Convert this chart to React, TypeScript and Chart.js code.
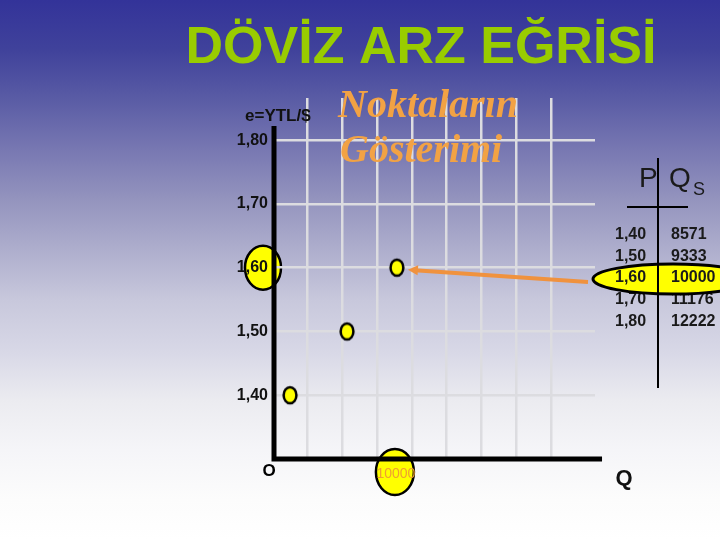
import React, { useEffect, useRef } from 'react';
import { Chart, registerables } from 'chart.js';

Chart.register(...registerables);

// ---- data ----
const priceLabels = ['1,40', '1,50', '1,60', '1,70', '1,80'];
const prices = [1.4, 1.5, 1.6, 1.7, 1.8];
const quantities = [8571, 9333, 10000, 11176, 12222];
const quantityLabels = ['8571', '9333', '10000', '11176', '12222'];
const shownPoints = 3;
const highlightIndex = 2;
const titleText = 'DÖVİZ ARZ EĞRİSİ';
const subtitleLines = ['Noktaların', 'Gösterimi'];
const yAxisTitle = 'e=YTL/$';
const xAxisTitle = 'Q';
const originLabel = 'O';
const tableHeaderP = 'P';
const tableHeaderQ = 'Q';
const tableHeaderSub = 'S';

// ---- scale settings ----
const xMin = 8343;
const xMax = 12649;
const xGridStep = 464.7;
const xGridLines = 8;
const xAxisEnd = 12743;
const yMin = 1.3;
const yMax = 1.866;
const yAxisTop = 1.822;

const SANS = '"Liberation Sans", Arial, sans-serif';
const SERIF = '"Liberation Serif", "Times New Roman", serif';

function makePointImage(): HTMLCanvasElement {
  const c = document.createElement('canvas');
  c.width = 18;
  c.height = 22;
  const g = c.getContext('2d')!;
  g.beginPath();
  g.ellipse(9, 11, 6.4, 8.0, 0, 0, Math.PI * 2);
  g.fillStyle = '#ffff00';
  g.fill();
  g.lineWidth = 2.5;
  g.strokeStyle = '#000';
  g.stroke();
  return c;
}

function yellowEllipse(ctx: CanvasRenderingContext2D, cx: number, cy: number, rx: number, ry: number, lw = 3) {
  ctx.beginPath();
  ctx.ellipse(cx, cy, rx, ry, 0, 0, Math.PI * 2);
  ctx.fillStyle = '#ffff00';
  ctx.fill();
  ctx.lineWidth = lw;
  ctx.strokeStyle = '#000';
  ctx.stroke();
}

const slidePlugin = {
  id: 'slide',
  beforeDraw(chart: any) {
    const { ctx, width, height, chartArea } = chart;
    const xs = chart.scales.x;
    const ys = chart.scales.y;
    ctx.save();
    const g = ctx.createLinearGradient(0, 0, 0, height);
    g.addColorStop(0, '#333399');
    g.addColorStop(0.093, '#40429b');
    g.addColorStop(0.185, '#5a5ca5');
    g.addColorStop(0.278, '#7878b2');
    g.addColorStop(0.37, '#9494be');
    g.addColorStop(0.556, '#c8c8dc');
    g.addColorStop(0.648, '#d7d7e6');
    g.addColorStop(0.74, '#ebebf0');
    g.addColorStop(0.833, '#f5f5f8');
    g.addColorStop(0.926, '#fcfcfc');
    g.addColorStop(1, '#ffffff');
    ctx.fillStyle = g;
    ctx.fillRect(0, 0, width, height);
    // highlight ellipses on the axes
    yellowEllipse(ctx, chartArea.left - 10, ys.getPixelForValue(prices[highlightIndex]), 18, 22, 2.5);
    yellowEllipse(ctx, xs.getPixelForValue(quantities[highlightIndex]) - 2, chartArea.bottom + 13, 19, 23, 2.5);
    ctx.restore();
  },
  beforeDatasetsDraw(chart: any) {
    const { ctx, chartArea } = chart;
    const xs = chart.scales.x;
    const ys = chart.scales.y;
    ctx.save();
    ctx.strokeStyle = '#000';
    ctx.lineWidth = 5;
    ctx.lineCap = 'butt';
    ctx.beginPath();
    ctx.moveTo(chartArea.left + 1, ys.getPixelForValue(yAxisTop));
    ctx.lineTo(chartArea.left + 1, chartArea.bottom + 2.5);
    ctx.moveTo(chartArea.left - 1, chartArea.bottom);
    ctx.lineTo(xs.getPixelForValue(xAxisEnd), chartArea.bottom);
    ctx.stroke();

    ctx.textAlign = 'center';
    ctx.textBaseline = 'alphabetic';
    ctx.fillStyle = '#f0a030';
    ctx.font = `14px ${SANS}`;
    ctx.fillText(quantityLabels[highlightIndex], xs.getPixelForValue(quantities[highlightIndex]) - 1, chartArea.bottom + 19);

    ctx.fillStyle = '#000';
    ctx.font = `bold 17px ${SANS}`;
    ctx.fillText(originLabel, chartArea.left - 4, chartArea.bottom + 17);
    ctx.restore();
  },
  afterDraw(chart: any) {
    const { ctx } = chart;
    const xs = chart.scales.x;
    const ys = chart.scales.y;
    ctx.save();
    ctx.textBaseline = 'alphabetic';

    // title
    ctx.fillStyle = '#99cc00';
    ctx.font = `bold 52px ${SANS}`;
    ctx.textAlign = 'center';
    ctx.fillText(titleText, 421, 63);

    // subtitle
    ctx.textAlign = 'left';
    ctx.font = `italic bold 40px ${SERIF}`;
    ctx.fillStyle = '#f2a244';
    ctx.fillText(subtitleLines[0], 338, 117);
    ctx.fillText(subtitleLines[1], 340, 162);

    // y axis title
    ctx.fillStyle = '#111';
    ctx.font = `bold 17px ${SANS}`;
    ctx.fillText(yAxisTitle, 245, 121);

    // x axis title
    ctx.textAlign = 'center';
    ctx.font = `bold 22px ${SANS}`;
    ctx.fillText(xAxisTitle, 624, 485);

    // arrow from table to highlighted point
    const tx = xs.getPixelForValue(quantities[highlightIndex]) + 11;
    const ty = ys.getPixelForValue(prices[highlightIndex]) + 2;
    const sx = 588;
    const sy = 282;
    const ang = Math.atan2(sy - ty, sx - tx);
    ctx.strokeStyle = '#f0923e';
    ctx.fillStyle = '#f0923e';
    ctx.lineWidth = 4;
    ctx.beginPath();
    ctx.moveTo(sx, sy);
    ctx.lineTo(tx + 7 * Math.cos(ang), ty + 7 * Math.sin(ang));
    ctx.stroke();
    ctx.beginPath();
    ctx.moveTo(tx, ty);
    ctx.lineTo(tx + 10 * Math.cos(ang) - 5 * Math.sin(ang), ty + 10 * Math.sin(ang) + 5 * Math.cos(ang));
    ctx.lineTo(tx + 10 * Math.cos(ang) + 5 * Math.sin(ang), ty + 10 * Math.sin(ang) - 5 * Math.cos(ang));
    ctx.closePath();
    ctx.fill();

    // table
    const rowY0 = 239;
    const rowStep = 21.7;
    const pX = 615;
    const qX = 671;
    ctx.textAlign = 'left';
    ctx.font = `bold 16px ${SANS}`;
    ctx.fillStyle = '#1a1a1a';
    priceLabels.forEach((p, i) => {
      if (i === highlightIndex) return;
      ctx.fillText(p, pX, rowY0 + i * rowStep);
      ctx.fillText(quantityLabels[i], qX, rowY0 + i * rowStep);
    });
    yellowEllipse(ctx, 673, 279, 80, 15, 3);
    ctx.fillStyle = '#1a1a1a';
    ctx.fillText(priceLabels[highlightIndex], pX, rowY0 + highlightIndex * rowStep);
    ctx.fillText(quantityLabels[highlightIndex], qX, rowY0 + highlightIndex * rowStep);

    ctx.strokeStyle = '#000';
    ctx.lineWidth = 2;
    ctx.beginPath();
    ctx.moveTo(658, 158);
    ctx.lineTo(658, 388);
    ctx.moveTo(627, 207);
    ctx.lineTo(688, 207);
    ctx.stroke();

    ctx.fillStyle = '#1a1a1a';
    ctx.font = `28px ${SANS}`;
    ctx.fillText(tableHeaderP, 639, 187);
    ctx.fillText(tableHeaderQ, 669, 187);
    ctx.font = `18px ${SANS}`;
    ctx.fillText(tableHeaderSub, 693, 195);

    ctx.restore();
  },
};

export default function App() {
  const ref = useRef<HTMLCanvasElement | null>(null);

  useEffect(() => {
    const canvas = ref.current;
    if (!canvas) return;
    const pointImg = makePointImage();
    const points = quantities.slice(0, shownPoints).map((q, i) => ({ x: q, y: prices[i] }));
    const chart = new Chart(canvas, {
      type: 'scatter',
      data: {
        datasets: [
          {
            data: points,
            pointStyle: pointImg as any,
            pointRadius: 8,
            showLine: false,
          },
        ],
      },
      plugins: [slidePlugin],
      options: {
        responsive: false,
        animation: false,
        events: [],
        layout: { padding: { top: 98, right: 125, left: 0, bottom: 0 } },
        plugins: { legend: { display: false }, tooltip: { enabled: false }, title: { display: false } },
        scales: {
          x: {
            type: 'linear',
            min: xMin,
            max: xMax,
            border: { display: false },
            grid: { color: '#dcdce0', lineWidth: 2.5, drawTicks: false },
            ticks: { display: false },
            afterBuildTicks: (scale: any) => {
              const t: { value: number }[] = [];
              for (let k = 1; k <= xGridLines; k++) t.push({ value: xMin + k * xGridStep });
              scale.ticks = t;
            },
            afterFit: (scale: any) => {
              scale.height = 81;
            },
          },
          y: {
            type: 'linear',
            min: yMin,
            max: yMax,
            border: { display: false },
            grid: { color: '#dcdce0', lineWidth: 2.5, drawTicks: false },
            ticks: {
              padding: 5,
              color: '#111',
              font: { family: SANS, size: 16, weight: 'bold' },
              callback: (_v: any, index: number) => priceLabels[index],
            },
            afterBuildTicks: (scale: any) => {
              scale.ticks = prices.map((v) => ({ value: v }));
            },
            afterFit: (scale: any) => {
              scale.width = 273;
            },
          },
        },
      } as any,
    });
    return () => chart.destroy();
  }, []);

  return (
    <div style={{ position: 'absolute', left: 0, top: 0, width: 720, height: 540 }}>
      <canvas ref={ref} width={720} height={540} style={{ display: 'block', width: 720, height: 540 }} />
    </div>
  );
}
